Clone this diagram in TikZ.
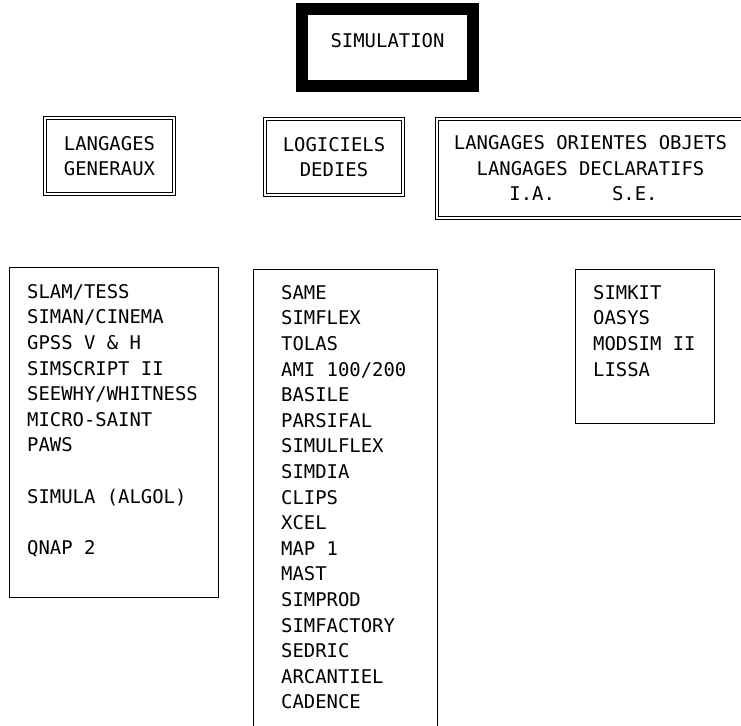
\documentclass[tikz,border=0pt]{standalone}
\usepackage{fontspec}
\newfontfamily\plotfont{DejaVu Sans Mono}
\usepackage{tikz}
\usetikzlibrary{positioning}
\tikzstyle{titlebox} = [rectangle, draw, line width=12pt, minimum width=171pt, minimum height=77pt, text height=14pt, text depth=14pt]
\tikzstyle{headbox} = [rectangle, draw, double, double distance=2pt, line width=0.8pt, align=center, inner sep=0pt]
\tikzstyle{listbox} = [rectangle, draw, line width=0.9pt, inner sep=0pt, anchor=north west]
\tikzstyle{items} = [align=left, anchor=north west, inner sep=0pt]

\begin{document}
\begin{tikzpicture}[x=1pt, y=-1pt, font=\plotfont\fontsize{18.9}{25.6}\selectfont]
\useasboundingbox (0,0) rectangle (741,725);

\node (sim) [titlebox] at (387.5,47.5) {SIMULATION};

\node (gen) [headbox, minimum width=129.4pt, minimum height=76.4pt] at (109.5,156) {LANGAGES\\GENERAUX};
\node (log) [headbox, minimum width=138.4pt, minimum height=76.4pt] at (334,157) {LOGICIELS\\DEDIES};
\node (obj) [headbox, minimum width=307.4pt, minimum height=99.4pt] at (590.5,168.5) {LANGAGES ORIENTES OBJETS\\LANGAGES DECLARATIFS\\I.A.\hspace{57pt}S.E.\hspace*{14pt}};

\node (genlist) [listbox, minimum width=209pt, minimum height=330pt] at (9,267) {};
\node (loglist) [listbox, minimum width=184pt, minimum height=470pt] at (253,269) {};
\node (objlist) [listbox, minimum width=139pt, minimum height=154pt] at (575,269) {};

\node (genitems) [items, below right=17pt and 18pt of genlist.north west] {SLAM/TESS\\SIMAN/CINEMA\\GPSS V \& H\\SIMSCRIPT II\\SEEWHY/WHITNESS\\MICRO-SAINT\\PAWS\\[25.6pt]SIMULA (ALGOL)\\[25.6pt]QNAP 2};
\node (logitems) [items, below right=16pt and 28pt of loglist.north west] {SAME\\SIMFLEX\\TOLAS\\AMI 100/200\\BASILE\\PARSIFAL\\SIMULFLEX\\SIMDIA\\CLIPS\\XCEL\\MAP 1\\MAST\\SIMPROD\\SIMFACTORY\\SEDRIC\\ARCANTIEL\\CADENCE};
\node (objitems) [items, below right=16pt and 18pt of objlist.north west] {SIMKIT\\OASYS\\MODSIM II\\LISSA};

\end{tikzpicture}
\end{document}
